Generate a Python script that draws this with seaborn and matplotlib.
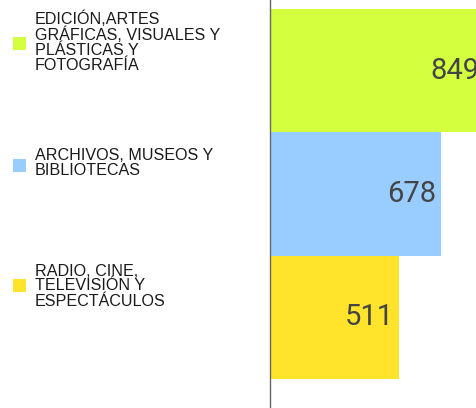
import matplotlib
matplotlib.use("Agg")
import matplotlib.pyplot as plt
import seaborn as sns
from matplotlib.patches import Rectangle

categories = [
    "EDICIÓN,ARTES\nGRÁFICAS, VISUALES Y\nPLÁSTICAS Y\nFOTOGRAFÍA",
    "ARCHIVOS, MUSEOS Y\nBIBLIOTECAS",
    "RADIO, CINE,\nTELEVISIÓN Y\nESPECTÁCULOS",
]
values = [849, 678, 511]
colors = ["#d4ff3f", "#99ccff", "#ffe42b"]

W, H = 477, 408
fig = plt.figure(figsize=(W / 100, H / 100), dpi=100)
sns.set_style("white")

# axes: left edge at x=270 px, extends beyond right edge of figure
scale = 0.2525  # px per unit
xmax = 900
ax = fig.add_axes([270 / W, 0, xmax * scale / W, 1])
ax.set_facecolor("none")
fig.patch.set_facecolor("white")

sns.barplot(x=values, y=list(range(len(values))), hue=list(range(len(values))),
            palette=colors, orient="h", width=1.0, legend=False, ax=ax,
            saturation=1, linewidth=0)
ax.set_xlim(0, xmax)
ax.set_ylim(2.734, -0.573)
ax.set_xticks([])
ax.set_yticks([])
ax.set_xlabel("")
ax.set_ylabel("")
for s in ["top", "right", "bottom"]:
    ax.spines[s].set_visible(False)
ax.spines["left"].set_color("#666666")
ax.spines["left"].set_linewidth(1.0)

for cont in ax.containers:
    labels = ax.bar_label(cont, padding=-3.5, fontsize=21, color="#444444",
                          family="Roboto")
    for t in labels:
        t.set_horizontalalignment("right")

# legend, drawn manually at fixed positions (pixels from top)
text_centers = [41.5, 163, 286]
sq_centers = [43, 165, 285]
sq = 13
for cat, col, tc, sc in zip(categories, colors, text_centers, sq_centers):
    fig.patches.append(Rectangle(((20 - sq / 2) / W, 1 - (sc + sq / 2) / H),
                                 sq / W, sq / H, transform=fig.transFigure,
                                 facecolor=col, edgecolor="none"))
    fig.text(35 / W, 1 - tc / H, cat, ha="left", va="center",
             fontsize=11.6, family="Liberation Sans", color="#1a1a1a",
             linespacing=1.0)

fig.savefig("out.png", dpi=100)
